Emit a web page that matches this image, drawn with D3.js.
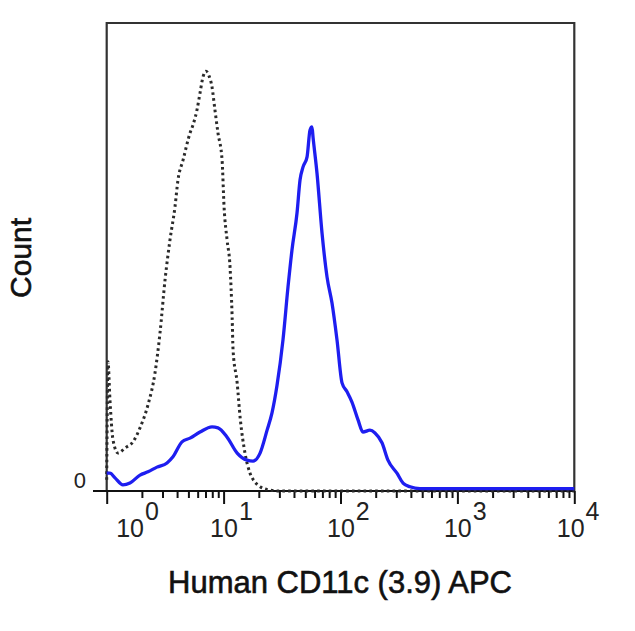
<!DOCTYPE html>
<html><head><meta charset="utf-8">
<script src="https://cdn.jsdelivr.net/npm/d3@7"></script>
<style>
html,body{margin:0;padding:0;background:#fff;}
svg{display:block;font-family:"Liberation Sans",Arial,sans-serif;}
</style></head>
<body>
<svg id="chart" width="635" height="631"></svg>
<script>
// x positions are log10(intensity), y are relative counts
const isoLog = [0.000,0.011,0.028,0.054,0.097,0.157,0.225,0.285,0.353,0.413,0.456,0.499,0.541,0.584,0.610,0.653,0.713,0.738,0.772,0.798,0.824,0.849,0.875,0.901,0.926,0.952,0.987,1.004,1.030,1.055,1.073,1.081,1.116,1.141,1.183,1.226,1.269,1.312,1.397,1.483,2.5,4.0];
const isoCount = [2.4,27.6,19.4,10.9,8.1,9.2,10.5,13.5,18.4,25.2,33.8,45.1,53.6,60.7,66.5,70.7,76.5,78.2,81.4,85.0,88.5,89.7,88.7,86.3,81.4,76.5,70.7,60.7,53.6,47.9,37.2,30.1,23.1,15.8,8.1,3.8,1.9,0.9,0.2,0,0,0];

const cd11cLog = [0.000,0.028,0.071,0.139,0.199,0.285,0.353,0.430,0.516,0.567,0.644,0.713,0.798,0.901,0.952,1.030,1.116,1.200,1.252,1.312,1.372,1.414,1.457,1.508,1.551,1.585,1.628,1.654,1.679,1.714,1.739,1.756,1.765,1.799,1.842,1.885,1.927,1.970,2.013,2.056,2.098,2.150,2.192,2.252,2.295,2.355,2.406,2.483,2.535,2.595,2.680,4.0];
const cd11cCount = [3.8,3.8,2.8,1.3,1.7,3.4,4.1,5.1,6.0,7.3,10.5,11.3,12.6,13.7,13.5,11.5,8.1,6.6,6.4,8.1,13.0,16.7,22.6,32.3,43.6,51.5,59.4,66.5,69.2,71.4,77.1,77.8,75.6,67.9,55.1,45.7,40.2,32.3,23.1,21.2,19.0,15.2,12.6,13.0,12.4,10.3,6.6,3.8,1.7,0.9,0.5,0.5];

const decadeExponents = [0,1,2,3,4];
const xTitle = "Human CD11c (3.9) APC";
const yTitle = "Count";
const yZeroLabel = "0";

(function () {
const svg = d3.select("#chart");
const pLeft = 106.7, pRight = 574.3, pTop = 23, pBottom = 491;

const x = d3.scaleLog().domain([1, 10000]).range([pLeft, pRight]);
const y = d3.scaleLinear().domain([0, 100]).range([pBottom, pTop]);

// frame
svg.append("path")
  .attr("d", `M${pLeft},${pBottom} V${pTop} H${pRight} V${pBottom}`)
  .attr("fill", "none").attr("stroke", "#333").attr("stroke-width", 2.2);

const line = d3.line().x(d => x(Math.pow(10, d[0]))).y(d => y(d[1])).curve(d3.curveMonotoneX);

// x axis baseline
svg.append("line").attr("x1", 93).attr("x2", pRight).attr("y1", pBottom).attr("y2", pBottom)
  .attr("stroke", "#111").attr("stroke-width", 2);

const minorVals = [];
for (let e = 0; e < 4; e++) for (let m = 2; m <= 9; m++) minorVals.push(m * Math.pow(10, e));
const majorVals = decadeExponents.map(e => Math.pow(10, e));

const gMinor = svg.append("g").attr("transform", `translate(0,${pBottom})`)
  .call(d3.axisBottom(x).tickValues(minorVals).tickSize(7).tickFormat(""));
const gMajor = svg.append("g").attr("transform", `translate(0,${pBottom})`)
  .call(d3.axisBottom(x).tickValues(majorVals).tickSize(13).tickFormat(""));
[gMinor, gMajor].forEach(g => {
  g.select(".domain").remove();
  g.selectAll(".tick line").attr("stroke", "#111").attr("stroke-width", 2);
});

svg.append("path")
  .datum(isoLog.map((v, i) => [v, isoCount[i]]))
  .attr("d", line).attr("fill", "none")
  .attr("stroke", "#2a2a2a").attr("stroke-width", 3)
  .attr("stroke-dasharray", "2.6,3.2");

svg.append("path")
  .datum(cd11cLog.map((v, i) => [v, cd11cCount[i]]))
  .attr("d", line).attr("fill", "none")
  .attr("stroke", "#1e1ef0").attr("stroke-width", 3.3).attr("stroke-linejoin", "round");

decadeExponents.forEach(e => {
  let cx = x(Math.pow(10, e));
  if (e === 0) cx += 23;
  if (e === 4) cx -= 4;
  const t = svg.append("text").attr("x", cx - 13.5).attr("y", 537)
    .attr("font-size", 25).attr("fill", "#222");
  t.append("tspan").text("10");
  t.append("tspan").attr("dx", 1).attr("dy", -17).text(String(e));
});

svg.append("text").attr("x", 86).attr("y", 488).attr("text-anchor", "end")
  .attr("font-size", 22).attr("fill", "#222").text(yZeroLabel);

svg.append("text").attr("x", 340).attr("y", 593).attr("text-anchor", "middle")
  .attr("font-size", 31).attr("fill", "#111")
  .attr("stroke", "#111").attr("stroke-width", 0.6).text(xTitle);
svg.append("text").attr("transform", "translate(31,258) rotate(-90)")
  .attr("text-anchor", "middle").attr("font-size", 30).attr("fill", "#111")
  .attr("stroke", "#111").attr("stroke-width", 0.6).text(yTitle);
})();
</script>
</body></html>
